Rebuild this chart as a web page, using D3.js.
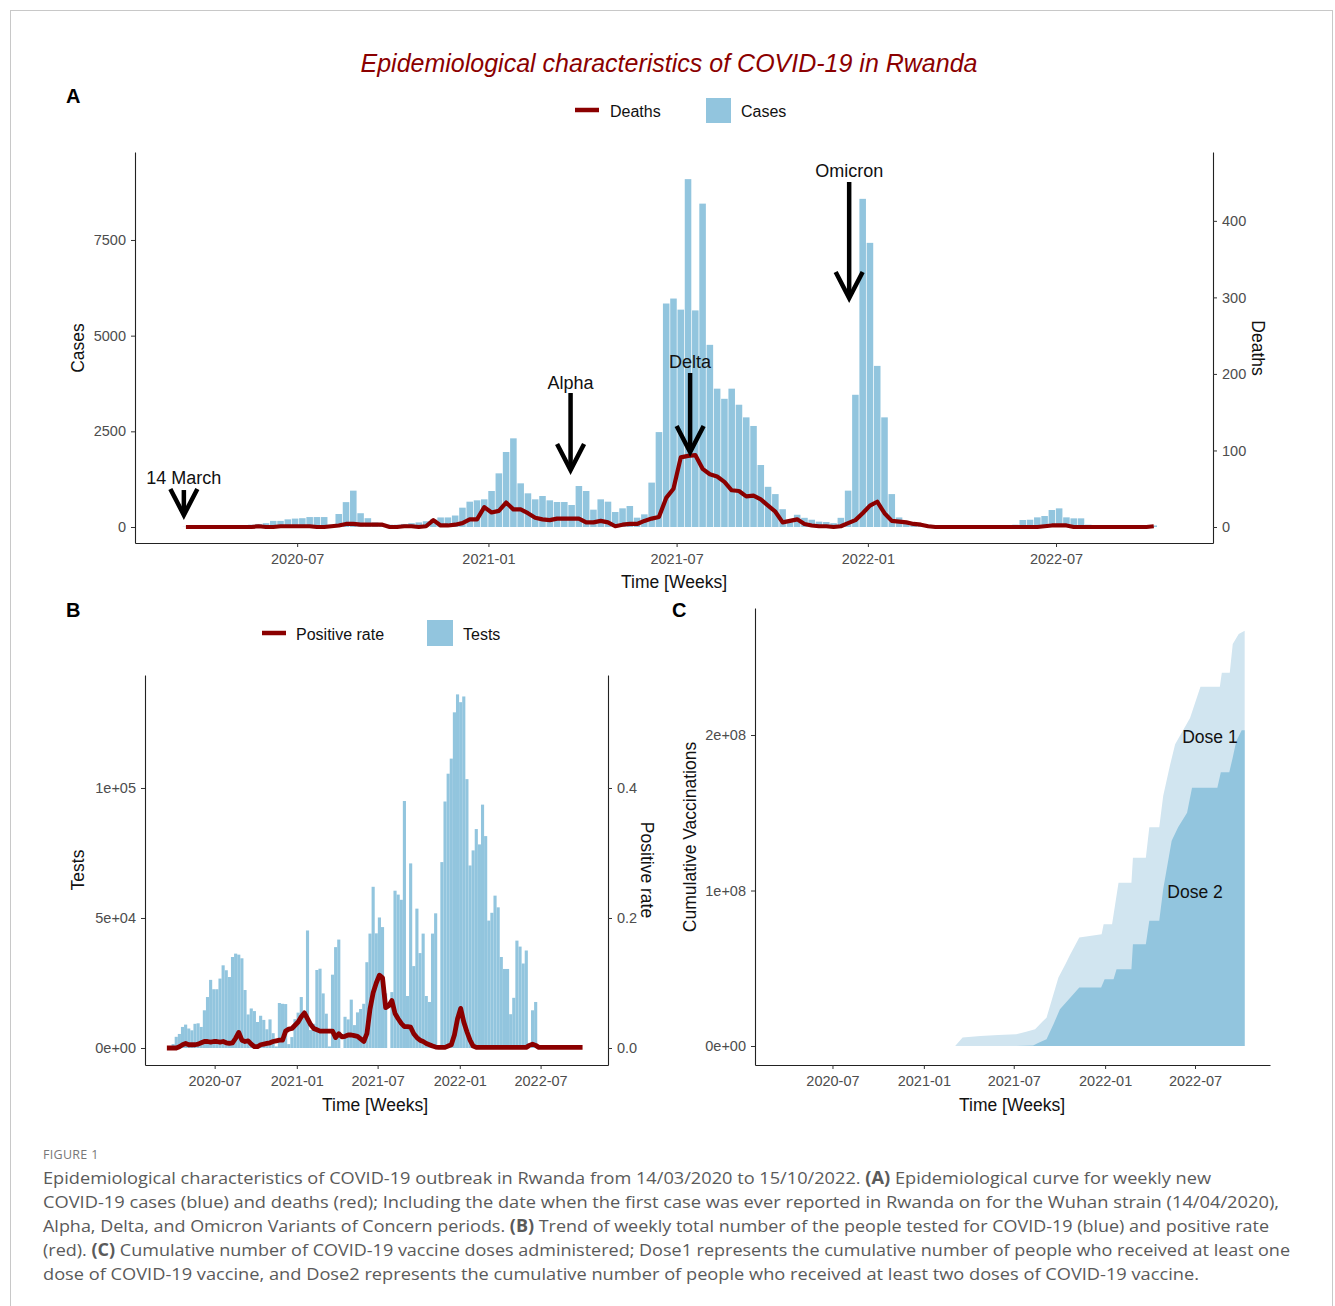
<!DOCTYPE html>
<html><head><meta charset="utf-8">
<script src="https://cdn.jsdelivr.net/npm/d3@7"></script>
<style>
body{margin:0;background:#fff}
svg{display:block}
text{font-family:"Liberation Sans",Arial,sans-serif}
</style>
</head><body>
<svg id="fig" width="1335" height="1306"></svg>
<script>
// ---------------- DATA ----------------
const weekStart = "2020-03-16";           // centre date of first weekly bar
const xDomain = ["2020-01-27", "2022-11-29"];
const xTickLabels = ["2020-07", "2021-01", "2021-07", "2022-01", "2022-07"];

// Panel A – weekly new cases
const cases = [
  5,30,40,30,20,20,30,40,50,60,
  80,100,160,160,200,220,230,260,260,260,
  60,340,650,950,360,230,120,80,60,60,
  80,100,120,150,200,250,250,300,505,662,
  697,723,941,1402,1960,2317,1141,880,723,810,
  697,653,653,575,1071,941,453,723,662,392,
  488,549,244,331,1160,2480,5840,5970,5680,9090,
  5660,8450,4760,3615,3350,3615,3195,2865,2640,1620,
  1050,860,465,150,320,240,190,140,130,100,
  240,950,3455,8575,7425,4210,2865,860,250,120,
  90,70,60,50,50,40,40,40,40,40,
  40,40,40,40,60,183,190,252,287,444,
  487,252,226,226,60,50,40,40,40,40,
  40,40,40,40
];
// Panel A – weekly deaths
const deaths = [
  0,0,0,0,0,0,0,0,0,0,
  1,0,0,1,1,1,1,1,0,0,
  1,2,4,4,3,3,3,3,0,0,
  1,1,0,1,9,2,2,3,5,10,
  10,26,19,21,32,23,23,18,12,10,
  9,11,11,11,11,6,6,8,6,1,
  3,4,4,8,11,13,38,50,91,93,
  94,76,69,66,59,48,47,40,41,36,
  28,20,6,8,10,4,2,1,1,0,
  1,5,9,18,28,33,18,8,7,6,
  4,3,1,0,0,0,0,0,0,0,
  0,0,0,0,0,0,0,0,1,2,
  2,2,0,0,0,0,0,0,0,0,
  0,0,0,1
];
// Panel B – weekly tests
const tests = [
  0,0,1500,4300,5400,8100,9000,7500,6800,9300,
  9500,8100,14500,19600,26200,22600,22600,26700,31800,29900,
  27300,35000,36300,35900,34500,22300,12900,15200,14200,10000,
  12400,10800,7200,11000,5700,600,17300,17000,16900,1500,
  4200,11100,13600,19600,13300,45200,6900,9300,30000,30500,
  21000,13200,600,28200,38800,41700,0,12000,11000,18600,
  8800,13700,15000,17000,33000,44000,62000,44100,50200,46500,
  21000,0,21500,60500,59000,57000,95000,20000,71000,31500,
  53600,36500,44000,20000,17700,44000,51800,0,71500,94800,
  105500,111300,129100,136000,133000,135200,103400,70200,76000,84200,
  78300,93600,81500,49000,52000,58600,54100,35000,30400,30400,
  13000,19300,41300,39000,32500,37500,0,14500,17700,0,
  0,0,0,0,0,0,0,0,0,0,
  0,0,0,0
];
// Panel B – weekly positive rate
const positiveRate = [
  0,0,0,0,0.002,0.005,0.007,0.005,0.005,0.005,
  0.006,0.008,0.01,0.01,0.009,0.01,0.01,0.009,0.01,0.008,
  0.007,0.008,0.015,0.024,0.012,0.01,0.011,0.006,0.002,0.002,
  0.005,0.006,0.007,0.008,0.01,0.011,0.012,0.012,0.026,0.029,
  0.03,0.035,0.04,0.048,0.054,0.045,0.036,0.03,0.028,0.026,
  0.026,0.026,0.026,0.026,0.016,0.022,0.017,0.018,0.02,0.02,
  0.019,0.018,0.014,0.01,0.022,0.06,0.085,0.1,0.112,0.108,
  0.062,0.065,0.073,0.053,0.045,0.038,0.033,0.033,0.032,0.022,
  0.016,0.012,0.01,0.007,0.005,0.003,0.0015,0.001,0.001,0.001,
  0.003,0.005,0.02,0.045,0.061,0.04,0.025,0.012,0.003,0.001,
  0.001,0.001,0.001,0.001,0.001,0.001,0.001,0.001,0.001,0.001,
  0.001,0.001,0.001,0.001,0.001,0.001,0.004,0.006,0.004,0.001,
  0.001,0.001,0.001,0.001,0.001,0.001,0.001,0.001,0.001,0.001,
  0.001,0.001,0.001,0.001
];
// Panel C – cumulative vaccinations
const dose1Dates = ["2021-03-05","2021-03-20","2021-04-25","2021-05-31","2021-07-06","2021-07-26","2021-08-13","2021-08-29","2021-09-05","2021-09-19","2021-09-29","2021-10-13","2021-10-23","2021-11-10","2021-12-25","2021-12-29","2022-01-15","2022-01-28","2022-02-23","2022-02-26","2022-03-24","2022-03-31","2022-04-20","2022-04-28","2022-05-12","2022-05-22","2022-06-21","2022-07-12","2022-08-20","2022-08-24","2022-09-09","2022-09-15","2022-09-27","2022-10-09"];
const dose1 = [0,5.4e6,6.4e6,7.1e6,7.5e6,9.2e6,10.7e6,16e6,18.2e6,33.3e6,44e6,52.6e6,59e6,69.7e6,71.9e6,78.3e6,78.3e6,105e6,105e6,121e6,121e6,140.6e6,140.6e6,161e6,181e6,194e6,211e6,231e6,231e6,240e6,240e6,258.6e6,265e6,267e6];
const dose2Dates = ["2021-07-05","2021-08-09","2021-08-19","2021-09-05","2021-09-19","2021-10-02","2021-10-20","2021-11-10","2021-12-24","2021-12-31","2022-01-18","2022-01-24","2022-02-23","2022-02-26","2022-03-24","2022-03-31","2022-04-20","2022-04-28","2022-05-15","2022-05-28","2022-06-15","2022-06-25","2022-08-15","2022-08-22","2022-09-08","2022-09-15","2022-09-22","2022-10-03","2022-10-09"];
const dose2 = [0,0.4e6,2e6,4.3e6,14e6,23.6e6,30e6,37.6e6,37.6e6,43e6,43e6,49.4e6,49.4e6,65.5e6,65.5e6,80.5e6,80.5e6,100.9e6,132e6,140.6e6,150e6,166e6,166e6,176e6,176e6,185.6e6,196e6,203e6,203e6];

// Axis ticks
const casesTicks = [0, 2500, 5000, 7500];
const deathsTicks = [0, 100, 200, 300, 400];
const testsTicks = [0, 50000, 100000];
const testsTickLabels = ["0e+00", "5e+04", "1e+05"];
const rateTicks = [0, 0.2, 0.4];
const rateTickLabels = ["0.0", "0.2", "0.4"];
const vaxTicks = [0, 1e8, 2e8];
const vaxTickLabels = ["0e+00", "1e+08", "2e+08"];

// Variant annotations (panel A)
const annLabels = ["14 March", "Alpha", "Delta", "Omicron"];
const annDates = ["2020-03-14", "2021-03-21", "2021-07-14", "2021-12-14"];
const annTip = [313, 1489, 1960, 5984];
const annTop = [966, 3501, 4024, 9015];
const annText = [1123, 3600, 4150, 9140];

// Caption
const captionLines = [
  [["Epidemiological characteristics of COVID-19 outbreak in Rwanda from 14/03/2020 to 15/10/2022. ",0],["(A)",1],[" Epidemiological curve for weekly new",0]],
  [["COVID-19 cases (blue) and deaths (red); Including the date when the first case was ever reported in Rwanda on for the Wuhan strain (14/04/2020),",0]],
  [["Alpha, Delta, and Omicron Variants of Concern periods. ",0],["(B)",1],[" Trend of weekly total number of the people tested for COVID-19 (blue) and positive rate",0]],
  [["(red). ",0],["(C)",1],[" Cumulative number of COVID-19 vaccine doses administered; Dose1 represents the cumulative number of people who received at least one",0]],
  [["dose of COVID-19 vaccine, and Dose2 represents the cumulative number of people who received at least two doses of COVID-19 vaccine.",0]]
];
const captionWidths = [1168, 1236, 1226, 1247, 1156];

// ---------------- DRAWING ----------------
const parse = d3.utcParse("%Y-%m-%d");
const parseYM = d3.utcParse("%Y-%m");
const fmtYM = d3.utcFormat("%Y-%m");
const w0 = parse(weekStart);
const weeks = cases.map((_, i) => d3.utcDay.offset(w0, 7 * i));
const xTicks = xTickLabels.map(parseYM);
const dom = xDomain.map(parse);

const BLUE = "#92C5DE", LIGHT = "#D1E5F0", RED = "#8B0000";
const svg = d3.select("#fig");

svg.append("rect").attr("x", 10.5).attr("y", 10.5).attr("width", 1322).attr("height", 1320)
  .attr("fill", "none").attr("stroke", "#c8c8c8");

function styleAxis(g) {
  g.select(".domain").attr("stroke", "#222").attr("stroke-width", 1.1);
  g.selectAll(".tick line").attr("stroke", "#333").attr("stroke-width", 1);
  g.selectAll(".tick text").attr("fill", "#4D4D4D").style("font-size", "14.5px")
    .style("font-family", '"Liberation Sans", Arial, sans-serif');
}
function title(txt, x, y, rot, size) {
  svg.append("text").attr("transform", `translate(${x},${y}) rotate(${rot || 0})`)
    .attr("text-anchor", "middle").style("font-size", (size || 17.5) + "px").attr("fill", "#111").text(txt);
}
const intFmt = d3.format("d");

// ===== Panel A =====
const A = {l: 135, r: 1213, t: 152, b: 543};
const xA = d3.scaleUtc().domain(dom).range([A.l, A.r]);
const yC = d3.scaleLinear().domain([-418, 9799]).range([A.b, A.t]);
const yD = d3.scaleLinear().domain([-418 / 20, 9799 / 20]).range([A.b, A.t]);
const wA = (xA(weeks[1]) - xA(weeks[0])) * 0.9;

const gA = svg.append("g");
gA.selectAll("rect.bar").data(cases).join("rect")
  .attr("x", (d, i) => xA(weeks[i]) - wA / 2).attr("width", wA)
  .attr("y", d => yC(Math.max(d, 0))).attr("height", d => yC(0) - yC(Math.max(d, 0)))
  .attr("fill", BLUE);
gA.append("path").datum(deaths)
  .attr("d", d3.line().x((d, i) => xA(weeks[i])).y(d => yD(d)))
  .attr("fill", "none").attr("stroke", RED).attr("stroke-width", 4.2).attr("stroke-linejoin", "round");

// annotations
annLabels.forEach((lab, k) => {
  const x = xA(parse(annDates[k])), yt = yC(annTip[k]), y0 = yC(annTop[k]);
  gA.append("line").attr("x1", x).attr("x2", x).attr("y1", y0).attr("y2", yt - 2)
    .attr("stroke", "#000").attr("stroke-width", 4.5);
  gA.append("path").attr("d", `M${x - 13.5},${yt - 26}L${x},${yt}L${x + 13.5},${yt - 26}`)
    .attr("fill", "none").attr("stroke", "#000").attr("stroke-width", 4.5).attr("stroke-linejoin", "miter");
  gA.append("text").attr("x", x).attr("y", yC(annText[k])).attr("text-anchor", "middle")
    .style("font-size", "18px").attr("fill", "#111").text(lab);
});

svg.append("g").attr("transform", `translate(0,${A.b})`)
  .call(d3.axisBottom(xA).tickValues(xTicks).tickFormat(fmtYM).tickSize(4).tickSizeOuter(0).tickPadding(7)).call(styleAxis);
svg.append("g").attr("transform", `translate(${A.l},0)`)
  .call(d3.axisLeft(yC).tickValues(casesTicks).tickFormat(intFmt).tickSize(4).tickSizeOuter(0).tickPadding(5)).call(styleAxis);
svg.append("g").attr("transform", `translate(${A.r},0)`)
  .call(d3.axisRight(yD).tickValues(deathsTicks).tickFormat(intFmt).tickSize(4).tickSizeOuter(0).tickPadding(5)).call(styleAxis);
title("Cases", 84, 348, -90);
title("Deaths", 1252, 348, 90);
title("Time [Weeks]", 674, 588);

// Title + legend A
svg.append("text").attr("x", 669).attr("y", 72).attr("text-anchor", "middle")
  .style("font-size", "25px").style("font-style", "italic").attr("fill", "#8B0000")
  .text("Epidemiological characteristics of COVID-19 in Rwanda");
svg.append("line").attr("x1", 575).attr("x2", 599).attr("y1", 110).attr("y2", 110).attr("stroke", RED).attr("stroke-width", 4.5);
svg.append("text").attr("x", 610).attr("y", 117).style("font-size", "16px").attr("fill", "#111").text("Deaths");
svg.append("rect").attr("x", 706).attr("y", 98).attr("width", 25).attr("height", 25).attr("fill", BLUE);
svg.append("text").attr("x", 741).attr("y", 117).style("font-size", "16px").attr("fill", "#111").text("Cases");

// panel letters
[["A", 66, 103], ["B", 66, 617], ["C", 672, 617]].forEach(p =>
  svg.append("text").attr("x", p[1]).attr("y", p[2]).style("font-size", "20px").style("font-weight", "bold").attr("fill", "#000").text(p[0]));

// ===== Panel B =====
const B = {l: 145, r: 608, t: 675, b: 1065};
const xB = d3.scaleUtc().domain(dom).range([B.l, B.r]);
const yT = d3.scaleLinear().domain([-(B.b - 1048) * 384.6, (1048 - B.t) * 384.6]).range([B.b, B.t]);
const yR = d3.scaleLinear().domain([yT.domain()[0] / 250000, yT.domain()[1] / 250000]).range([B.b, B.t]);
const wB = (xB(weeks[1]) - xB(weeks[0])) * 1.0;
const gB = svg.append("g");
gB.selectAll("rect").data(tests).join("rect")
  .attr("x", (d, i) => xB(weeks[i]) - wB / 2).attr("width", wB)
  .attr("y", d => yT(d)).attr("height", d => yT(0) - yT(d)).attr("fill", BLUE);
gB.append("path").datum(positiveRate)
  .attr("d", d3.line().x((d, i) => xB(weeks[i])).y(d => yR(d)))
  .attr("fill", "none").attr("stroke", RED).attr("stroke-width", 4.8).attr("stroke-linejoin", "round");
svg.append("g").attr("transform", `translate(0,${B.b})`)
  .call(d3.axisBottom(xB).tickValues(xTicks).tickFormat(fmtYM).tickSize(4).tickSizeOuter(0).tickPadding(7)).call(styleAxis);
svg.append("g").attr("transform", `translate(${B.l},0)`)
  .call(d3.axisLeft(yT).tickValues(testsTicks).tickFormat((d, i) => testsTickLabels[i]).tickSize(4).tickSizeOuter(0).tickPadding(5)).call(styleAxis);
svg.append("g").attr("transform", `translate(${B.r},0)`)
  .call(d3.axisRight(yR).tickValues(rateTicks).tickFormat((d, i) => rateTickLabels[i]).tickSize(4).tickSizeOuter(0).tickPadding(5)).call(styleAxis);
title("Tests", 84, 870, -90);
title("Positive rate", 641, 870, 90);
title("Time [Weeks]", 375, 1111);
svg.append("line").attr("x1", 262).attr("x2", 286).attr("y1", 633).attr("y2", 633).attr("stroke", RED).attr("stroke-width", 4.5);
svg.append("text").attr("x", 296).attr("y", 640).style("font-size", "16px").attr("fill", "#111").text("Positive rate");
svg.append("rect").attr("x", 427).attr("y", 620).attr("width", 26).attr("height", 26).attr("fill", BLUE);
svg.append("text").attr("x", 463).attr("y", 640).style("font-size", "16px").attr("fill", "#111").text("Tests");

// ===== Panel C =====
const C = {l: 755, r: 1270, t: 608, b: 1065};
const xC = d3.scaleUtc().domain(dom).range([C.l, C.r]);
const yV = d3.scaleLinear().domain([-(C.b - 1046) / 155.5 * 1e8, (1046 - C.t) / 155.5 * 1e8]).range([C.b, C.t]);
const area = d3.area().x(d => xC(d[0])).y0(yV(0)).y1(d => yV(d[1]));
const d1 = dose1Dates.map((s, i) => [parse(s), dose1[i]]);
const d2 = dose2Dates.map((s, i) => [parse(s), dose2[i]]);
svg.append("path").datum(d1).attr("d", area).attr("fill", LIGHT);
svg.append("path").datum(d2).attr("d", area).attr("fill", BLUE);
svg.append("text").attr("x", xC(parse("2022-07-31"))).attr("y", yV(1.99e8)).attr("dy", "0.35em")
  .attr("text-anchor", "middle").style("font-size", "17.5px").attr("fill", "#111").text("Dose 1");
svg.append("text").attr("x", xC(parse("2022-07-01"))).attr("y", yV(0.99e8)).attr("dy", "0.35em")
  .attr("text-anchor", "middle").style("font-size", "17.5px").attr("fill", "#111").text("Dose 2");
svg.append("g").attr("transform", `translate(0,${C.b})`)
  .call(d3.axisBottom(xC).tickValues(xTicks).tickFormat(fmtYM).tickSize(4).tickSizeOuter(0).tickPadding(7)).call(styleAxis);
svg.append("g").attr("transform", `translate(${C.l},0)`)
  .call(d3.axisLeft(yV).tickValues(vaxTicks).tickFormat((d, i) => vaxTickLabels[i]).tickSize(4).tickSizeOuter(0).tickPadding(5)).call(styleAxis);
title("Cumulative Vaccinations", 696, 837, -90);
title("Time [Weeks]", 1012, 1111);

// ===== Caption =====
svg.append("text").attr("x", 43).attr("y", 1159).style("font-size", "12.5px")
  .style("font-family", '"Open Sans", sans-serif').attr("fill", "#777").attr("letter-spacing", "0.3px").text("FIGURE 1");
captionLines.forEach((line, k) => {
  const t = svg.append("text").attr("x", 43).attr("y", 1184 + k * 24)
    .style("font-size", "17px").style("font-family", '"Open Sans", sans-serif').attr("fill", "#5a5a5a")
    .attr("textLength", captionWidths[k]).attr("lengthAdjust", "spacingAndGlyphs");
  line.forEach(seg => t.append("tspan").style("font-weight", seg[1] ? "bold" : "normal").text(seg[0]));
});
</script>
</body></html>
